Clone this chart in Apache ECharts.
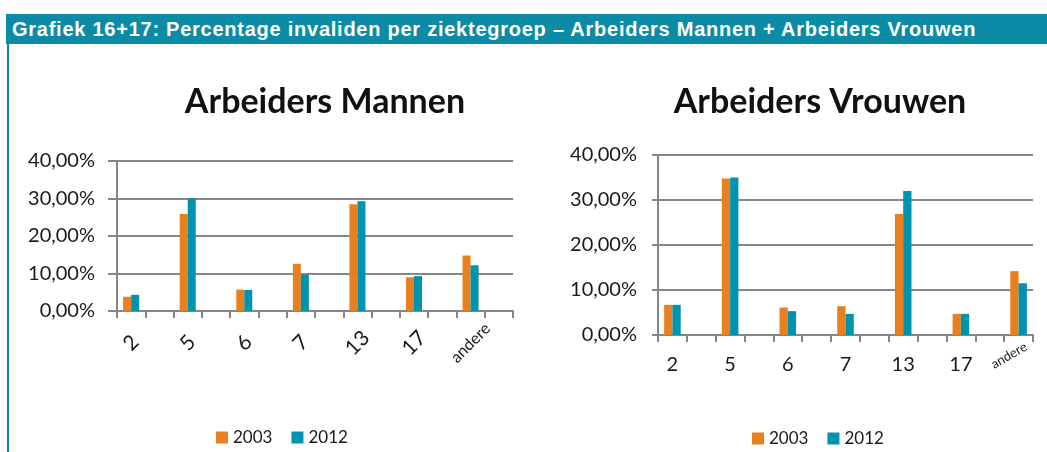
<!DOCTYPE html>
<html>
<head>
<meta charset="utf-8">
<script src="https://cdn.jsdelivr.net/npm/echarts@6/dist/echarts.min.js"></script>
<style>
  html, body { margin: 0; padding: 0; background: #fff; }
  #wrap { position: relative; width: 1047px; height: 452px; overflow: hidden; }
  #header {
    position: absolute; left: 6px; top: 14px; width: 1041px; height: 30px;
    background: #0b8ba5; color: #fff;
    font: bold 20px "Liberation Sans", Arial, sans-serif; letter-spacing: 0.75px;
    line-height: 31px; padding-left: 6px; box-sizing: border-box; white-space: nowrap;
  }
  #edge { position: absolute; left: 7px; top: 44px; width: 2px; height: 408px; background: #0b8ba5; }
  #chart { position: absolute; left: 0; top: 0; width: 1047px; height: 452px; }
</style>
</head>
<body>
<div id="wrap">
  <div id="header">Grafiek 16+17: Percentage invaliden per ziektegroep – Arbeiders Mannen + Arbeiders Vrouwen</div>
  <div id="edge"></div>
  <div id="chart"></div>
</div>
<script>
// ziektegroepen
var groepen = ['2', '5', '6', '7', '13', '17', 'andere'];
var jaren = ['2003', '2012'];
// percentages
var mannen2003 = [3.8, 25.9, 5.7, 12.6, 28.5, 9.0, 14.8];
var mannen2012 = [4.3, 30.0, 5.6, 9.7, 29.3, 9.3, 12.2];
var vrouwen2003 = [6.7, 34.8, 6.1, 6.4, 26.9, 4.7, 14.2];
var vrouwen2012 = [6.7, 35.0, 5.3, 4.7, 32.0, 4.7, 11.5];
var yTicks = [0, 10, 20, 30, 40];

var oranje = '#e9801f';
var blauw = '#0093ad';
var grijs = '#868686';
var font = 'Lato, "Open Sans", sans-serif';

// excel grafiek heeft lege categorieen tussen de groepen
var spreid = function(arr, trailing) {
	var out = [];
	arr.forEach(function(v, i) {
		out.push(v);
		if (i < arr.length - 1 || trailing) out.push(null);
	});
	return out;
};
var cats = function(trailing) {
	return spreid(groepen, trailing).map(function(c) { return c === null ? '' : c; });
};
var pct = function(v) {
	return v.toFixed(2).replace('.', ',') + '%';
};

var yAxis = function(idx, tickLen, margin) {
	return {
		type: 'value', gridIndex: idx,
		min: yTicks[0], max: yTicks[yTicks.length - 1], interval: yTicks[1] - yTicks[0],
		axisLine: { show: true, lineStyle: { color: grijs, width: 2 } },
		axisTick: { show: true, length: tickLen, lineStyle: { color: grijs, width: 2 } },
		splitLine: { lineStyle: { color: grijs, width: 2 } },
		axisLabel: { formatter: pct, color: '#1a1a1a', fontSize: 20, fontFamily: font, margin: margin }
	};
};

var option = {
	animation: false,
	title: [{
		text: 'Arbeiders Mannen', left: 320, top: 80, textAlign: 'center',
		textStyle: { fontFamily: font, fontWeight: 'bold', fontSize: 34, color: '#111' }
	}, {
		text: 'Arbeiders Vrouwen', left: 815, top: 80, textAlign: 'center',
		textStyle: { fontFamily: font, fontWeight: 'bold', fontSize: 34, color: '#111' }
	}],
	legend: [{
		data: jaren, left: 211, top: 424, itemWidth: 12, itemHeight: 12, itemGap: 19, icon: 'rect',
		textStyle: { fontFamily: font, fontSize: 17, color: '#1a1a1a' }
	}, {
		data: jaren, left: 747, top: 425, itemWidth: 12, itemHeight: 12, itemGap: 19, icon: 'rect',
		textStyle: { fontFamily: font, fontSize: 17, color: '#1a1a1a' }
	}],
	grid: [
		{ left: 117, top: 161, width: 396, height: 150 },
		{ left: 658, top: 155, width: 375, height: 180 }
	],
	xAxis: [{
		type: 'category', gridIndex: 0, data: cats(true),
		axisLine: { lineStyle: { color: grijs, width: 2 } },
		axisTick: { show: true, interval: 0, length: 7, lineStyle: { color: grijs, width: 2 } },
		axisLabel: {
			interval: 0, rotate: 45, align: 'center', verticalAlign: 'middle', margin: 32,
			color: '#1a1a1a', fontSize: 21, fontFamily: font,
			formatter: function(v) { return v === 'andere' ? '{s|andere}' : v; },
			rich: { s: { fontSize: 16, fontFamily: font, color: '#1a1a1a' } }
		}
	}, {
		type: 'category', gridIndex: 1, data: cats(false),
		axisLine: { lineStyle: { color: grijs, width: 2 } },
		axisTick: { show: true, interval: 0, length: 7, lineStyle: { color: grijs, width: 2 } },
		axisLabel: {
			interval: 0, verticalAlign: 'middle', margin: 30,
			color: '#1a1a1a', fontSize: 20, fontFamily: font,
			formatter: function(v) { return v === 'andere' ? '' : v; }
		}
	}, {
		// alleen het schuine label 'andere'
		type: 'category', gridIndex: 1, data: cats(false), position: 'bottom',
		axisLine: { show: false }, axisTick: { show: false },
		axisLabel: {
			interval: 0, rotate: 30, align: 'center', verticalAlign: 'middle', margin: 15,
			padding: [0, 22, 0, 0],
			color: '#1a1a1a', fontSize: 13, fontFamily: font,
			formatter: function(v) { return v === 'andere' ? v : ''; }
		}
	}],
	yAxis: [yAxis(0, 9, 22), yAxis(1, 6, 21)],
	series: [
		{ name: jaren[0], type: 'bar', xAxisIndex: 0, yAxisIndex: 0, data: spreid(mannen2003, true), barWidth: 8, barGap: '0%', itemStyle: { color: oranje } },
		{ name: jaren[1], type: 'bar', xAxisIndex: 0, yAxisIndex: 0, data: spreid(mannen2012, true), barWidth: 8, barGap: '0%', itemStyle: { color: blauw } },
		{ name: jaren[0], type: 'bar', xAxisIndex: 1, yAxisIndex: 1, data: spreid(vrouwen2003, false), barWidth: 8.3, barGap: '0%', itemStyle: { color: oranje } },
		{ name: jaren[1], type: 'bar', xAxisIndex: 1, yAxisIndex: 1, data: spreid(vrouwen2012, false), barWidth: 8.3, barGap: '0%', itemStyle: { color: blauw } }
	]
};

var myChart = echarts.init(document.getElementById('chart'));
myChart.setOption(option);
</script>
</body>
</html>
